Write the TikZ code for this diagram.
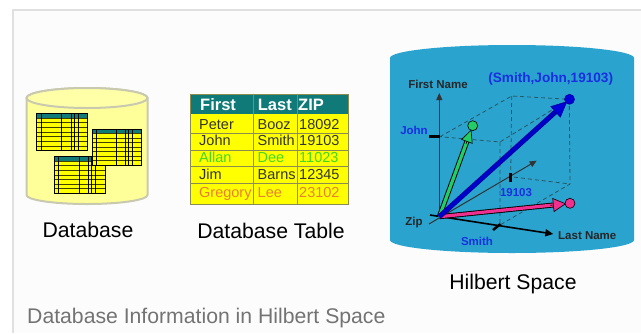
\documentclass[tikz,border=0pt]{standalone}
\usepackage{fontspec}
\setmainfont{Liberation Sans}
\usetikzlibrary{arrows.meta,calc}
\definecolor{teal1}{HTML}{0F7A78}
\definecolor{yel}{HTML}{FFFF00}
\definecolor{tline}{HTML}{8C8C50}
\definecolor{sky}{HTML}{2AA3CF}
\definecolor{dbfill}{HTML}{FFFF99}
\definecolor{dbline}{HTML}{C9C9B0}
\definecolor{axisc}{HTML}{333333}
\definecolor{dashc}{HTML}{2A5560}
\definecolor{lblue}{HTML}{1A2FE0}
\definecolor{vgreen}{HTML}{22CC66}
\definecolor{vpink}{HTML}{F0308F}
\definecolor{rowgreen}{HTML}{44D820}
\definecolor{roworange}{HTML}{E88030}
\newcommand{\px}[1]{\fontsize{#1}{#1}\selectfont}
\tikzset{
  x=1pt,y=-1pt,
  lab/.style={inner sep=0pt,font=\px{21.2}},
  axlab/.style={inner sep=0pt,font=\px{11.5}\bfseries,text=black!85},
  bluelab/.style={inner sep=0pt,font=\px{11.5}\bfseries,text=lblue},
  head/.style={inner sep=0pt,anchor=base west,font=\px{16.5}\bfseries,text=white},
  cell/.style={inner sep=0pt,anchor=base west,font=\px{14.5},text=black!80},
  axisl/.style={draw=axisc,line width=1pt,-{Triangle[length=7pt,width=6pt]}},
  dashl/.style={draw=dashc,line width=.8pt,dash pattern=on 4pt off 3pt},
  ball/.style={circle,draw=black,line width=.6pt,minimum size=10pt,inner sep=0pt},
  vecout/.style={draw=black,line width=5pt,shorten >=10pt},
  vecin/.style={line width=3.2pt,shorten >=10pt},
  gridl/.style={draw=black,line width=.8pt},
}
% mini table: #1 x0, #2 y0, #3 x1, #4 y1
\newcommand{\minitable}[4]{%
  \fill[yel] (#1,#2) rectangle (#3,#4);
  \fill[teal1] (#1,#2) rectangle (#3,#2+4.5);
  \foreach \f in {0.125,0.25,0.375,0.5,0.625,0.75,0.875}
    \draw[gridl,draw=black!75!yel] (#1,{#2+\f*(#4-#2)}) -- (#3,{#2+\f*(#4-#2)});
  \foreach \f in {0.09,0.49,0.68,0.74,0.82}
    \draw[gridl] ({#1+\f*(#3-#1)},#2) -- ({#1+\f*(#3-#1)},#4);
  \draw[gridl] (#1,#2) rectangle (#3,#4);
}
\begin{document}
\begin{tikzpicture}
\useasboundingbox (0,0) rectangle (641,333);
\fill[white!99!black] (0,0) rectangle (641,333);
\fill[white] (0,0) rectangle (12,333);
\fill[white] (0,0) rectangle (641,9);
\draw[black!12,line width=2pt] (12.5,333) -- (12.5,10) -- (641,10);

% Database cylinder
\path[fill=dbfill,draw=dbline,line width=2pt]
  (26.5,98) -- (26.5,195) arc[start angle=180,end angle=0,x radius=60.5,y radius=9] -- (147.5,98)
  arc[start angle=0,end angle=-180,x radius=60.5,y radius=10] -- cycle;
\draw[dbline,line width=2pt,fill=dbfill!85!white] (87,98) ellipse[x radius=60.5,y radius=10];
\minitable{36.7}{113.3}{87}{150.7}
\minitable{54.3}{156.7}{105}{193.3}
\minitable{92.3}{129.3}{141.7}{165.3}
\node[lab] (dblab) at (88,230) {Database};

% Table
\fill[yel] (190.7,114.3) rectangle (348,204);
\fill[teal1] (190.7,94) rectangle (348,114.3);
\foreach \yy in {133.3,150,166.7,183.3}
  \draw[tline,line width=.8pt] (190.7,\yy) -- (348,\yy);
\foreach \xx in {253.3,297.3}
  \draw[tline,line width=.8pt] (\xx,94) -- (\xx,204);
\draw[tline,line width=.8pt] (190.7,94) rectangle (348,204);
\node[head] (h1) at (200,110) {First};
\node[head] (h2) at (257.7,110) {Last};
\node[head] (h3) at (298,110) {ZIP};
\node[cell] (a1) at (199,129.3) {Peter};
\node[cell] (a2) at (257.5,129.3) {Booz};
\node[cell] (a3) at (299,129.3) {18092};
\node[cell] (b1) at (199,145.5) {John};
\node[cell] (b2) at (257.5,145.5) {Smith};
\node[cell] (b3) at (299,145.5) {19103};
\node[cell,text=rowgreen] (c1) at (199,162.7) {Allan};
\node[cell,text=rowgreen] (c2) at (257.5,162.7) {Dee};
\node[cell,text=rowgreen] (c3) at (299,162.7) {11023};
\node[cell] (d1) at (199,179.3) {Jim};
\node[cell] (d2) at (257.5,179.3) {Barns};
\node[cell] (d3) at (299,179.3) {12345};
\node[cell,text=roworange] (e1) at (199,197) {Gregory};
\node[cell,text=roworange] (e2) at (257.5,197) {Lee};
\node[cell,text=roworange] (e3) at (299,197) {23102};
\node[lab] (tablab) at (271,231) {Database Table};

% Hilbert cylinder
\fill[sky] (390,58) -- (390,240) arc[start angle=180,end angle=0,x radius=122,y radius=13] -- (634,58)
  arc[start angle=0,end angle=-180,x radius=122,y radius=13] -- cycle;

\coordinate (O) at (439.3,216.7);
\coordinate (FN) at (439.3,93);
\coordinate (LN0) at (430,215);
\coordinate (LN) at (553.3,234);
\coordinate (Z0) at (429,224);
\coordinate (ZE) at (536.7,160.7);
\coordinate (J) at (440,136.7);
\coordinate (TB) at (511.7,96);
\coordinate (TR) at (569.3,99.3);
\coordinate (TF) at (500,142);
\coordinate (BF) at (500,225);
\coordinate (BB) at (510.7,176.7);
\coordinate (BR) at (570,184);

\draw[dashl] (J) -- (TB) -- (TR) -- (TF) -- (J);
\draw[dashl] (TF) -- (BF) -- (BR) -- (TR);
\draw[dashl] (TB) -- (BB) -- (BR);

\draw[axisl] (O) -- (FN);
\draw[axisl,line width=1pt] (Z0) -- (ZE);
\draw[draw=black,line width=1.6pt,-{Triangle[length=8pt,width=7pt]}] (LN0) -- (LN);
\draw[black,line width=2.5pt] (429,136.7) -- (J);
\draw[black,line width=2.5pt] (510.7,173) -- (510.7,182);
\draw[black,line width=2.5pt] (493,230) -- (500.5,224);

\coordinate (gc) at (472.7,125.7);
\coordinate (pc) at (570,203.3);
\coordinate (bc) at (569.5,99.3);

\draw[vecout] (O) -- (gc);
\draw[vecin,draw=vgreen] (O) -- (gc);
\draw[draw=black,line width=.6pt,-{Triangle[length=13pt,width=12pt,fill=vgreen]},shorten >=4pt] ($(O)!0.8!(gc)$) -- (gc);

\draw[vecout] (O) -- (pc);
\draw[vecin,draw=vpink] (O) -- (pc);
\draw[draw=black,line width=.6pt,-{Triangle[length=13pt,width=14pt,fill=vpink]},shorten >=4pt] ($(O)!0.85!(pc)$) -- (pc);

\draw[draw=blue!55!black,line width=5pt,shorten >=10pt] (O) -- (bc);
\draw[draw=blue!80!black,line width=3.6pt,shorten >=10pt] (O) -- (bc);
\draw[draw=blue!60!black,line width=.6pt,-{Triangle[length=16pt,width=15pt,fill=blue!85!black]},shorten >=3pt] ($(O)!0.85!(bc)$) -- (bc);

\node[ball,fill=vgreen] (gb) at (gc) {};
\node[ball,fill=vpink] (pb) at (pc) {};
\node[ball,fill=blue!85!black,draw=blue!60!black] (bb) at (bc) {};

\node[axlab] (fnl) at (438,84.5) {First Name};
\node[axlab] (lnl) at (587.3,235.3) {Last Name};
\node[axlab] (zl) at (414,222.7) {Zip};
\node[bluelab] (jl) at (414,130) {John};
\node[bluelab] (sl) at (477,241.3) {Smith};
\node[bluelab] (zipl) at (516,192.7) {19103};
\node[inner sep=0pt,font=\px{13.6}\bfseries,text=lblue] (pt) at (550.7,79) {(Smith,John,19103)};

\node[lab] (hl) at (513,284) {Hilbert Space};
\node[lab,anchor=base west,text=black!55] (cap) at (27,323) {Database Information in Hilbert Space};
\end{tikzpicture}
\end{document}
